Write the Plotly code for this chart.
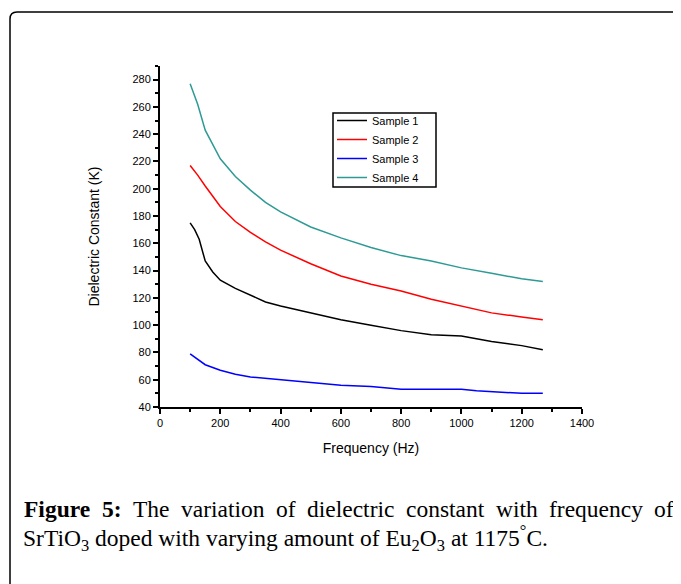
import plotly.graph_objects as go

# Data
freq1 = [100, 115, 130, 150, 175, 200, 250, 300, 350, 400, 500, 600, 700, 800, 900, 1000, 1100, 1200, 1270]
sample1 = [175, 170, 163, 147, 139, 133, 127, 122, 117, 114, 109, 104, 100, 96, 93, 92, 88, 85, 82]

freq2 = [100, 125, 150, 200, 250, 300, 350, 400, 500, 600, 700, 800, 900, 1000, 1100, 1200, 1270]
sample2 = [217, 210, 202, 187, 176, 168, 161, 155, 145, 136, 130, 125, 119, 114, 109, 106, 104]

freq3 = [100, 125, 150, 200, 250, 300, 400, 500, 600, 700, 800, 900, 1000, 1050, 1200, 1270]
sample3 = [79, 75, 71, 67, 64, 62, 60, 58, 56, 55, 53, 53, 53, 52, 50, 50]

freq4 = [100, 125, 150, 200, 250, 300, 350, 400, 500, 600, 700, 800, 900, 1000, 1100, 1200, 1270]
sample4 = [277, 262, 243, 222, 209, 199, 190, 183, 172, 164, 157, 151, 147, 142, 138, 134, 132]

series_names = ["Sample 1", "Sample 2", "Sample 3", "Sample 4"]
series_colors = ["#000000", "#ff0000", "#0000ff", "#2e9a94"]

caption_line1 = ["Figure", "5:", "The", "variation", "of", "dielectric",
                 "constant", "with", "frequency", "of"]
caption_line1_bold = [True, True, False, False, False, False, False, False, False, False]
caption_line2 = "SrTiO<sub>3</sub> doped with varying amount of Eu<sub>2</sub>O<sub>3</sub> at 1175<sup>°</sup>C."

W, H = 681, 584
OFF = 8  # page offset of the figure in the browser
ML, MR, MT, MB = 152, 107, 58, 185
PW = W - ML - MR
PH = H - MT - MB


def px(x):
    """screen x -> paper x"""
    return (x - OFF - ML) / PW


def py(y):
    """screen y -> paper y"""
    return (H - MB - (y - OFF)) / PH


fig = go.Figure()
for fx, vy, name, col in zip([freq1, freq2, freq3, freq4],
                             [sample1, sample2, sample3, sample4],
                             series_names, series_colors):
    fig.add_trace(go.Scatter(x=fx, y=vy, mode="lines", name=name,
                             line=dict(color=col, width=1.5)))

sans = "Arial, Liberation Sans, sans-serif"
axis_font = dict(family=sans, size=11, color="black")

fig.update_layout(
    width=W, height=H,
    margin=dict(l=ML, r=MR, t=MT, b=MB, autoexpand=False),
    paper_bgcolor="white", plot_bgcolor="white",
    showlegend=True,
    legend=dict(x=px(332), y=py(106), xanchor="left", yanchor="top",
                borderwidth=0, bgcolor="rgba(0,0,0,0)",
                font=dict(family=sans, size=11, color="black"),
                tracegroupgap=0, itemwidth=30),
    xaxis=dict(range=[0, 1400], dtick=200, tick0=0, showgrid=False, zeroline=False,
               showline=True, linecolor="black", linewidth=2,
               ticks="outside", ticklen=5, tickwidth=1.5, tickcolor="black",
               minor=dict(dtick=100, ticks="outside", ticklen=3, tickcolor="black", tickwidth=1.5),
               tickfont=axis_font,
               title=dict(text="Frequency (Hz)", standoff=15,
                          font=dict(family=sans, size=14, color="black"))),
    yaxis=dict(range=[40, 290], dtick=20, tick0=40, showgrid=False, zeroline=False,
               showline=True, linecolor="black", linewidth=2,
               ticks="outside", ticklen=5, tickwidth=1.5, tickcolor="black",
               minor=dict(dtick=10, ticks="outside", ticklen=3, tickcolor="black", tickwidth=1.5),
               tickfont=axis_font,
               title=dict(text="Dielectric Constant (K)", standoff=30,
                          font=dict(family=sans, size=14, color="black"))),
)

# Legend border
fig.add_shape(type="rect", xref="paper", yref="paper",
              x0=px(333), x1=px(436), y0=py(187), y1=py(113),
              line=dict(color="black", width=1.5))

# Rounded frame around the figure (opens to the right and bottom)
path = (f"M {px(10)},{py(600)} L {px(10)},{py(19)} "
        f"Q {px(10)},{py(12)} {px(17)},{py(12)} L {px(700)},{py(12)}")
fig.add_shape(type="path", path=path, xref="paper", yref="paper",
              line=dict(color="black", width=1.5))

# Caption: first line justified between two margins using Times metrics
CAP_SIZE = 23.5
REG = dict(a=444, b=500, c=444, d=500, e=444, f=333, g=500, h=500, i=278, j=278, k=500,
           l=278, m=778, n=500, o=500, p=500, q=500, r=333, s=389, t=278, u=500, v=500,
           w=722, x=500, y=500, z=444, T=611, F=556)
BOLD = dict(F=611, i=278, g=500, u=556, r=444, e=444)
BOLD["5"] = 500
BOLD[":"] = 333


def word_width(w, bold):
    table = BOLD if bold else REG
    return sum(table.get(ch, 500) for ch in w) * CAP_SIZE / 1000.0


left_x, right_x = 22, 672
widths = [word_width(w, b) for w, b in zip(caption_line1, caption_line1_bold)]
gap = (right_x - left_x - sum(widths)) / (len(widths) - 1)
cap_font = dict(family="Liberation Serif, Times New Roman, serif", size=CAP_SIZE, color="black")
xpos = left_x
for wtxt, bold, wd in zip(caption_line1, caption_line1_bold, widths):
    fig.add_annotation(text=f"<b>{wtxt}</b>" if bold else wtxt,
                       x=px(xpos), y=py(509), xref="paper", yref="paper",
                       xanchor="left", yanchor="middle", showarrow=False, font=cap_font)
    xpos += wd + gap
fig.add_annotation(text=caption_line2,
                   x=px(21), y=py(538), xref="paper", yref="paper",
                   xanchor="left", yanchor="middle", showarrow=False, font=cap_font)

fig.write_html("out.html")
